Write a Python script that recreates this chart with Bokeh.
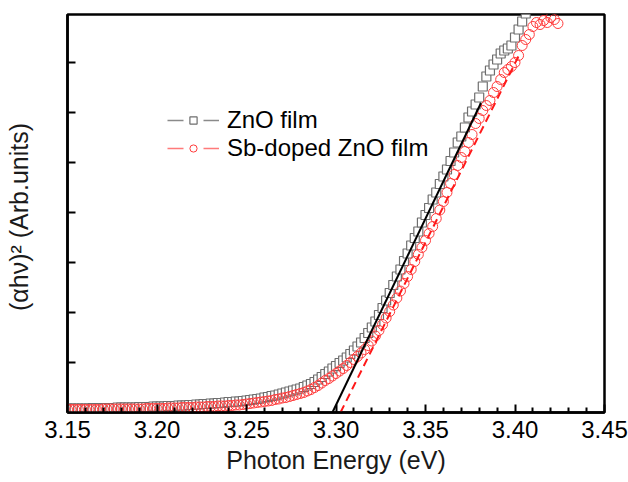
from bokeh.plotting import figure
from bokeh.models import FixedTicker, Range1d, Legend, LegendItem, CustomJSTickFormatter
from bokeh.embed import file_html
from bokeh.resources import INLINE

# ---------------- data ----------------
energy_ev = [
    3.150, 3.152, 3.154, 3.156, 3.158, 3.160, 3.162, 3.164, 3.166, 3.168,
    3.170, 3.172, 3.174, 3.176, 3.178, 3.180, 3.182, 3.184, 3.186, 3.188,
    3.190, 3.192, 3.194, 3.196, 3.198, 3.200, 3.202, 3.204, 3.206, 3.208,
    3.210, 3.212, 3.214, 3.216, 3.218, 3.220, 3.222, 3.224, 3.226, 3.228,
    3.230, 3.232, 3.234, 3.236, 3.238, 3.240, 3.242, 3.244, 3.246, 3.248,
    3.250, 3.252, 3.254, 3.256, 3.258, 3.260, 3.262, 3.264, 3.266, 3.268,
    3.270, 3.272, 3.274, 3.276, 3.278, 3.280, 3.282, 3.284, 3.286, 3.288,
    3.290, 3.292, 3.294, 3.296, 3.298, 3.300, 3.302, 3.304, 3.306, 3.308,
    3.310, 3.312, 3.314, 3.316, 3.318, 3.320, 3.322, 3.324, 3.326, 3.328,
    3.330, 3.332, 3.334, 3.336, 3.338, 3.340, 3.342, 3.344, 3.346, 3.348,
    3.350, 3.352, 3.354, 3.356, 3.358, 3.360, 3.362, 3.364, 3.366, 3.368,
    3.370, 3.372, 3.374, 3.376, 3.378, 3.380, 3.382, 3.384, 3.386, 3.388,
    3.390, 3.392, 3.394, 3.396, 3.398, 3.400, 3.402, 3.404, 3.406, 3.408,
    3.410, 3.412, 3.414, 3.416, 3.418, 3.420, 3.422, 3.424,
]

zno_values = [
    0.08, 0.08, 0.08, 0.08, 0.08, 0.08, 0.08, 0.09, 0.09, 0.09,
    0.09, 0.09, 0.09, 0.09, 0.10, 0.10, 0.10, 0.10, 0.10, 0.10,
    0.11, 0.11, 0.11, 0.11, 0.12, 0.12, 0.12, 0.12, 0.13, 0.13,
    0.13, 0.14, 0.14, 0.14, 0.15, 0.15, 0.16, 0.16, 0.17, 0.17,
    0.18, 0.18, 0.19, 0.19, 0.20, 0.21, 0.21, 0.22, 0.22, 0.23,
    0.24, 0.25, 0.26, 0.27, 0.28, 0.30, 0.31, 0.33, 0.34, 0.36,
    0.38, 0.40, 0.42, 0.44, 0.46, 0.48, 0.51, 0.54, 0.57, 0.61,
    0.66, 0.71, 0.77, 0.82, 0.88, 0.93, 0.99, 1.04, 1.10, 1.17,
    1.24, 1.32, 1.40, 1.49, 1.59, 1.70, 1.82, 1.95, 2.09, 2.24,
    2.39, 2.55, 2.72, 2.86, 3.03, 3.18, 3.34, 3.49, 3.62, 3.80,
    3.95, 4.09, 4.26, 4.40, 4.57, 4.72, 4.86, 5.03, 5.20, 5.40,
    5.52, 5.70, 5.90, 6.02, 6.16, 6.30, 6.52, 6.72, 6.84, 6.96,
    7.06, 7.18, 7.24, 7.28, 7.34, 7.50, 7.66, 7.82, 7.98, 8.10,
]

sb_values = [
    0.06, 0.06, 0.06, 0.06, 0.06, 0.06, 0.06, 0.06, 0.06, 0.06,
    0.07, 0.07, 0.07, 0.07, 0.07, 0.07, 0.07, 0.07, 0.07, 0.07,
    0.07, 0.07, 0.08, 0.08, 0.08, 0.08, 0.08, 0.08, 0.09, 0.09,
    0.09, 0.09, 0.10, 0.10, 0.10, 0.10, 0.11, 0.11, 0.11, 0.12,
    0.12, 0.12, 0.13, 0.13, 0.13, 0.14, 0.14, 0.15, 0.15, 0.16,
    0.17, 0.18, 0.19, 0.20, 0.21, 0.22, 0.23, 0.24, 0.26, 0.27,
    0.29, 0.30, 0.32, 0.34, 0.36, 0.38, 0.40, 0.43, 0.46, 0.50,
    0.54, 0.59, 0.64, 0.68, 0.73, 0.78, 0.83, 0.88, 0.94, 1.00,
    1.06, 1.12, 1.19, 1.26, 1.34, 1.43, 1.53, 1.64, 1.76, 1.89,
    2.02, 2.15, 2.29, 2.43, 2.58, 2.72, 2.86, 3.02, 3.16, 3.30,
    3.44, 3.58, 3.72, 3.88, 4.05, 4.22, 4.40, 4.58, 4.76, 4.94,
    5.10, 5.22, 5.40, 5.56, 5.78, 5.88, 6.04, 6.14, 6.24, 6.40,
    6.52, 6.66, 6.80, 6.86, 6.92, 7.00, 7.14, 7.34, 7.46, 7.56,
    7.72, 7.80, 7.76, 7.84, 7.80, 7.90, 7.86, 7.78,
]

zno_energy = energy_ev[:len(zno_values)]
sb_energy = energy_ev[:len(sb_values)]

# linear (Tauc) fits
zno_fit_x = [3.298, 3.381]
zno_fit_y = [0.0, 6.19]
sb_fit_x = [3.3025, 3.403]
sb_fit_y = [0.0, 7.20]

x_major_ticks = [3.15, 3.20, 3.25, 3.30, 3.35, 3.40, 3.45]
x_tick_labels = ["3.15", "3.20", "3.25", "3.30", "3.35", "3.40", "3.45"]
x_minor_ticks = [3.16, 3.17, 3.18, 3.19, 3.21, 3.22, 3.23, 3.24, 3.26, 3.27, 3.28, 3.29,
                 3.31, 3.32, 3.33, 3.34, 3.36, 3.37, 3.38, 3.39, 3.41, 3.42, 3.43, 3.44]
y_major_ticks = [1, 2, 3, 4, 5, 6, 7]

series_labels = ["ZnO film", "Sb-doped ZnO film"]

# legend-only dummy points, outside the visible ranges
legend_dummy_x = [3.0, 3.01]
legend_dummy_y = [-5.0, -5.0]

FONT = "Liberation Sans"

p = figure(
    width=628, height=482,
    output_backend="svg", toolbar_location=None,
    x_range=Range1d(3.15, 3.45), y_range=Range1d(0, 7.96),
    min_border_left=67, min_border_right=24, min_border_top=14, min_border_bottom=70,
)
p.background_fill_color = "white"
p.border_fill_color = "white"
p.xgrid.visible = False
p.ygrid.visible = False
p.outline_line_color = "black"
p.outline_line_width = 2.5

# x axis
xa = p.xaxis[0]
xa.ticker = FixedTicker(ticks=x_major_ticks, minor_ticks=x_minor_ticks)
xa.major_label_overrides = {t: s for t, s in zip(x_major_ticks, x_tick_labels)}
xa.axis_label = "Photon Energy (eV)"
xa.axis_label_text_font = FONT
xa.axis_label_text_font_style = "normal"
xa.axis_label_text_font_size = "25px"
xa.axis_label_text_color = "#1a1a1a"
xa.axis_label_standoff = 5
xa.major_label_text_font = FONT
xa.major_label_text_font_size = "24px"
xa.major_label_text_color = "black"
xa.major_label_standoff = 8
xa.axis_line_width = 2.5
xa.axis_line_color = "black"
xa.major_tick_in = 8
xa.major_tick_out = 0
xa.minor_tick_in = 5
xa.minor_tick_out = 0
xa.major_tick_line_width = 2
xa.minor_tick_line_width = 2
xa.major_tick_line_color = "black"
xa.minor_tick_line_color = "black"

# y axis
ya = p.yaxis[0]
ya.ticker = FixedTicker(ticks=y_major_ticks, minor_ticks=[])
ya.formatter = CustomJSTickFormatter(code="return ''")
ya.axis_label = "(αhν)²  (Arb.units)"
ya.axis_label_text_font = FONT
ya.axis_label_text_font_style = "normal"
ya.axis_label_text_font_size = "25px"
ya.axis_label_text_color = "#1a1a1a"
ya.axis_label_standoff = 35
ya.major_label_standoff = 0
ya.axis_line_width = 2.5
ya.axis_line_color = "black"
ya.major_tick_in = 8
ya.major_tick_out = 0
ya.minor_tick_in = 0
ya.minor_tick_out = 0
ya.major_tick_line_width = 2
ya.major_tick_line_color = "black"

# data
zno_r = p.scatter(zno_energy, zno_values, marker="square", size=9,
                  line_color="#6e6e6e", line_width=1.2, fill_color="white")
sb_r = p.scatter(sb_energy, sb_values, marker="circle", size=10,
                 line_color="#ff3b3b", line_width=1.0, fill_color=None)

p.line(zno_fit_x, zno_fit_y, line_color="black", line_width=2)
p.line(sb_fit_x, sb_fit_y, line_color="#ff1a1a", line_width=2, line_dash="8 5")

# legend-only line segments (with gap around the symbol)
zno_leg_line = p.line(legend_dummy_x, legend_dummy_y, line_color="#8a8a8a",
                      line_width=1.5, line_dash="16 20")
sb_leg_line = p.line(legend_dummy_x, legend_dummy_y, line_color="#ff7a7a",
                     line_width=1.5, line_dash="16 20")

legend = Legend(
    items=[
        LegendItem(label=series_labels[0], renderers=[zno_leg_line, zno_r]),
        LegendItem(label=series_labels[1], renderers=[sb_leg_line, sb_r]),
    ],
    location=(100, 250),
    orientation="vertical",
    glyph_width=52, glyph_height=18,
    label_standoff=8, spacing=0, padding=0, margin=0,
    label_text_font=FONT, label_text_font_size="24px", label_text_color="black",
    border_line_color=None, background_fill_alpha=0,
)
p.add_layout(legend)

open("out.html", "w").write(file_html(p, INLINE))
